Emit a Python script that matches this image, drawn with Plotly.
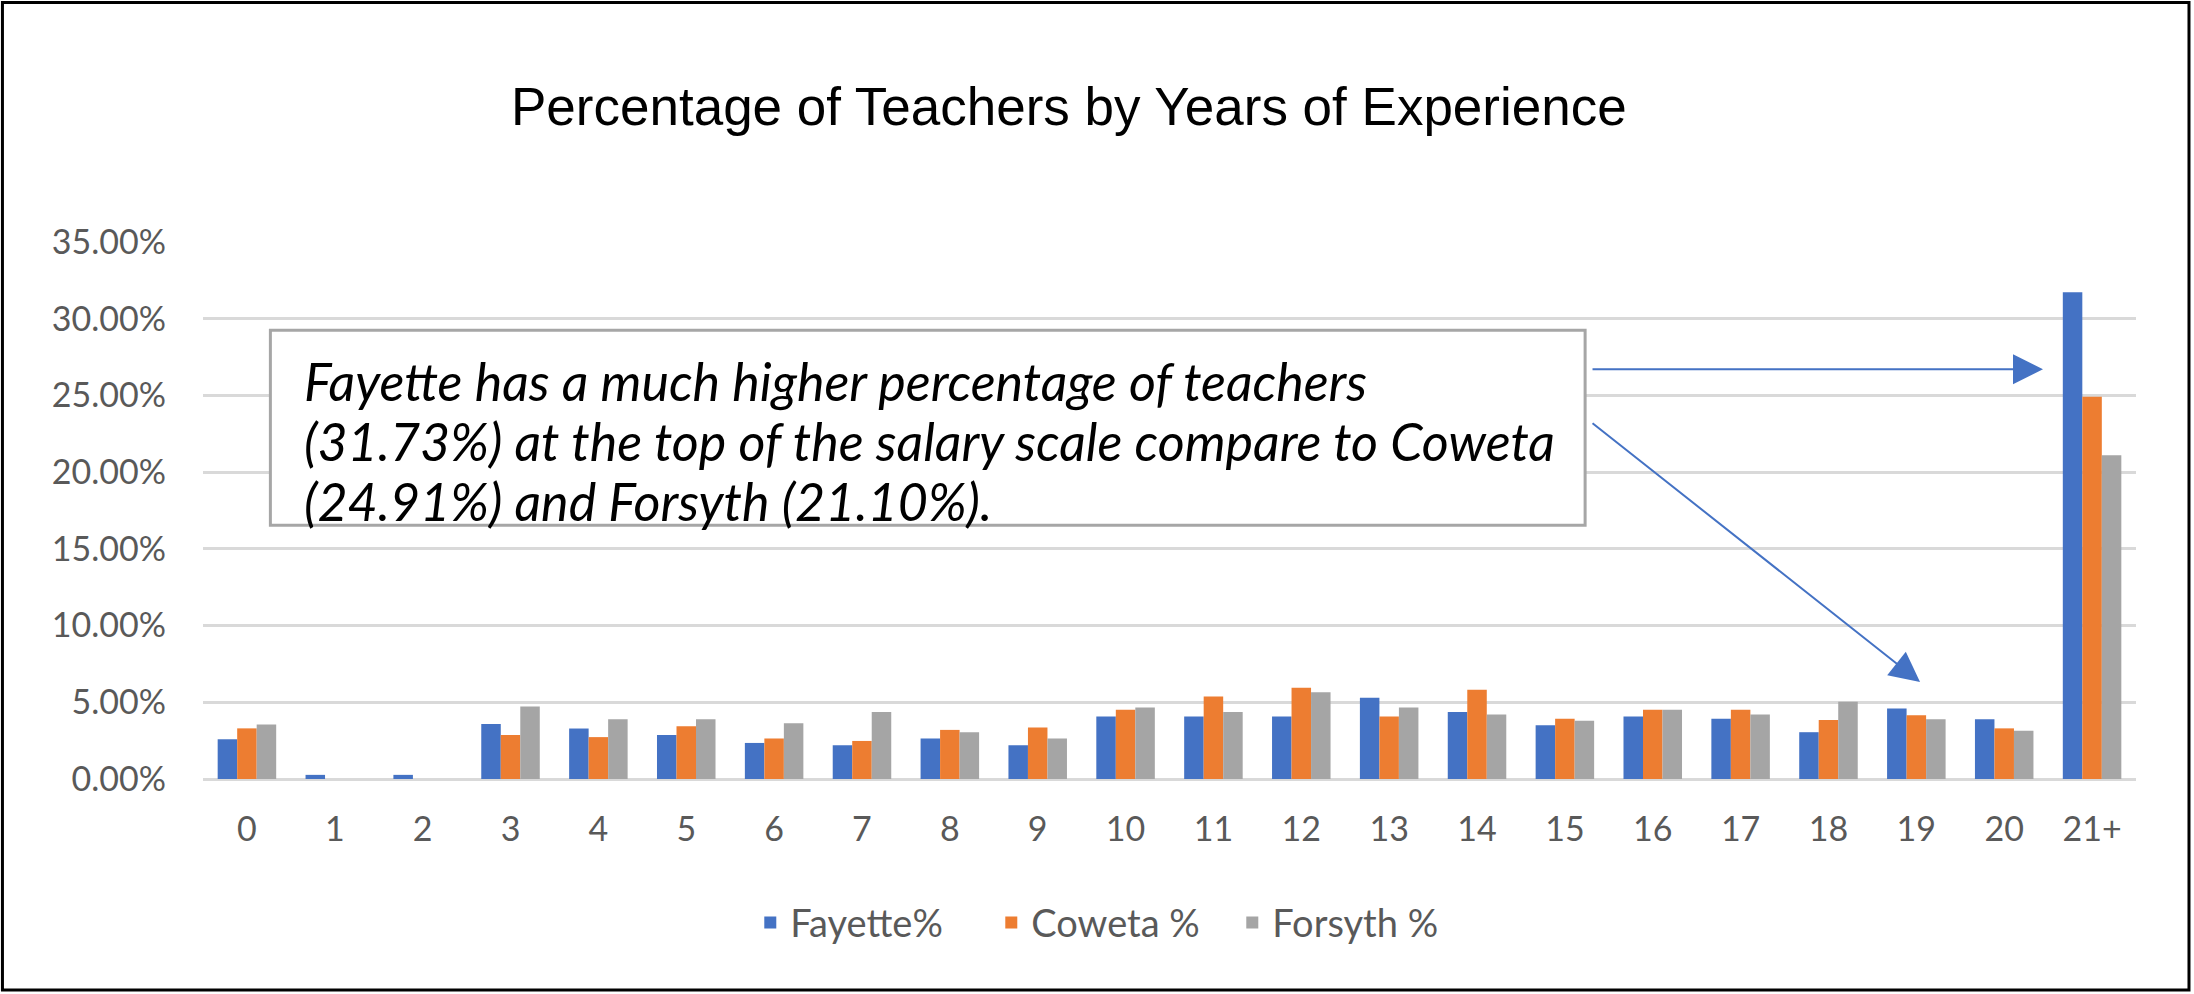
import plotly.graph_objects as go

# ---------------- data ----------------
years = ["0", "1", "2", "3", "4", "5", "6", "7", "8", "9", "10",
         "11", "12", "13", "14", "15", "16", "17", "18", "19", "20", "21+"]
fayette = [2.59, 0.27, 0.27, 3.59, 3.29, 2.86, 2.35, 2.20, 2.64, 2.20, 4.07,
           4.07, 4.07, 5.30, 4.36, 3.51, 4.07, 3.92, 3.05, 4.60, 3.89, 31.73]
coweta = [3.30, 0.0, 0.0, 2.86, 2.73, 3.43, 2.64, 2.48, 3.20, 3.36, 4.51,
          5.38, 5.95, 4.07, 5.82, 3.92, 4.51, 4.51, 3.84, 4.15, 3.30, 24.91]
forsyth = [3.56, 0.0, 0.0, 4.72, 3.89, 3.89, 3.64, 4.36, 3.05, 2.64, 4.66,
           4.36, 5.66, 4.66, 4.20, 3.79, 4.51, 4.20, 5.04, 3.89, 3.15, 21.10]
series_names = ["Fayette%", "Coweta %", "Forsyth %"]
y_ticks = [0, 5, 10, 15, 20, 25, 30, 35]
chart_title = "Percentage of Teachers by Years of Experience"
note_lines = [
    "Fayette has a much higher percentage of teachers",
    "(31.73%) at the top of the salary scale compare to Coweta",
    "(24.91%) and Forsyth (21.10%).",
]

# ---------------- layout geometry (pixels) ----------------
W, H = 2194, 994
L, R, T, B = 202.6, 2136.0, 241.7, 779.0


def px(x):
    return (x - L) / (R - L)


def py(y):
    return (B - y) / (B - T)


colors = ["#4472C4", "#ED7D31", "#A5A5A5"]
TICK_FONT = dict(family="Lato, 'Noto Sans', sans-serif", size=34, color="#595959")
LEGEND_FONT = dict(family="Lato, 'Noto Sans', sans-serif", size=38, color="#595959")

fig = go.Figure()
for name, vals, col in zip(series_names, [fayette, coweta, forsyth], colors):
    fig.add_trace(go.Bar(x=years, y=vals, name=name,
                         marker=dict(color=col, line=dict(width=0)),
                         hoverinfo="skip"))

fig.update_layout(
    width=W, height=H,
    margin=dict(l=L, r=W - R, t=T, b=H - B, autoexpand=False),
    paper_bgcolor="white", plot_bgcolor="white",
    barmode="group", bargap=0.334, bargroupgap=0.0,
    showlegend=True,
    legend=dict(orientation="h", xanchor="left", yanchor="middle",
                x=px(750), y=py(923), font=LEGEND_FONT,
                entrywidth=196, entrywidthmode="pixels",
                traceorder="normal", bgcolor="rgba(0,0,0,0)"),
    xaxis=dict(type="category", showgrid=False, zeroline=False,
               showline=False, ticks="", tickfont=TICK_FONT,
               ticklabelstandoff=27, fixedrange=True),
    yaxis=dict(range=[0, 35], tickvals=y_ticks,
               ticktext=[f"{v:.2f}%" for v in y_ticks],
               showgrid=True, gridcolor="#D9D9D9", gridwidth=3,
               zeroline=True, zerolinecolor="#D9D9D9", zerolinewidth=3,
               showline=False, ticks="", tickfont=TICK_FONT,
               ticklabelstandoff=36, fixedrange=True),
)

shapes = [
    # outer frame
    dict(type="rect", xref="paper", yref="paper",
         x0=px(2), x1=px(2189), y0=py(990), y1=py(2),
         line=dict(color="black", width=3), fillcolor="rgba(0,0,0,0)",
         layer="above"),
    # text box
    dict(type="rect", xref="paper", yref="paper",
         x0=px(270), x1=px(1585), y0=py(525), y1=py(330),
         line=dict(color="#A6A6A6", width=3), fillcolor="white",
         layer="above"),
]
fig.update_layout(shapes=shapes)

annotations = [
    dict(text=chart_title, xref="paper", yref="paper",
         x=px(1069), y=py(106), xanchor="center", yanchor="middle",
         showarrow=False,
         font=dict(family="'Liberation Sans', Arial, sans-serif",
                   size=53, color="black")),
]
for line_text, ycen in zip(note_lines, [381, 441, 501]):
    annotations.append(dict(
        text=f"<i>{line_text}</i>", xref="paper", yref="paper",
        x=px(302), y=py(ycen), xanchor="left", yanchor="middle",
        showarrow=False,
        font=dict(family="Lato, 'Noto Sans', sans-serif", size=52,
                  color="black")))

# arrows
for (tx, ty), (hx, hy) in [((1591, 369), (2043, 369)),
                           ((1591, 422), (1920, 682))]:
    annotations.append(dict(
        text="", xref="paper", yref="paper", x=px(hx), y=py(hy),
        ax=tx - hx, ay=ty - hy, showarrow=True,
        arrowhead=2, arrowsize=3, arrowwidth=2, arrowcolor="#4472C4",
        standoff=0, startstandoff=0))
fig.update_layout(annotations=annotations)

fig.write_html("out.html", config={"displayModeBar": False},
               post_script="document.body.style.margin='0';")
